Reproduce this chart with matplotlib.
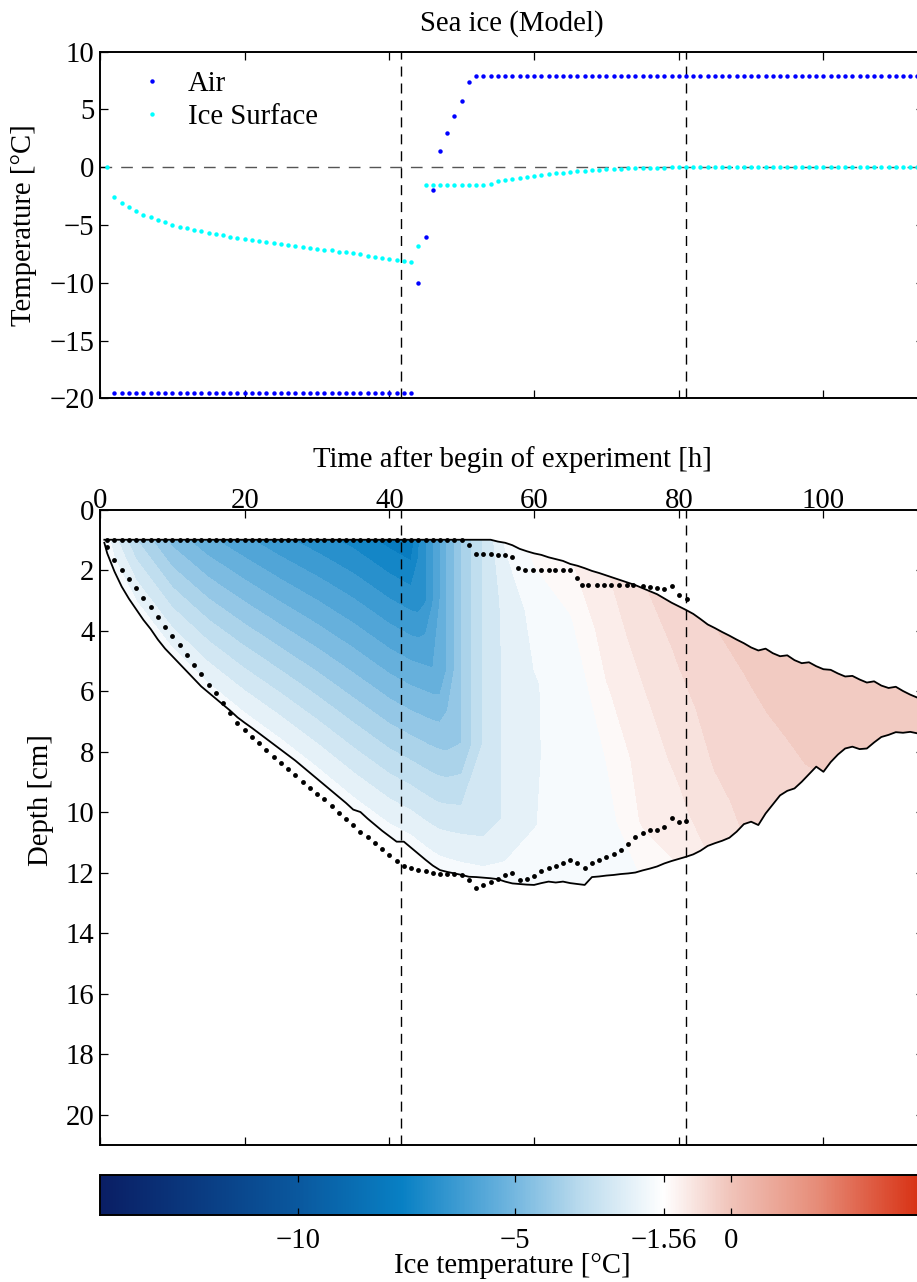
import numpy as np
import matplotlib
matplotlib.use('Agg')
import matplotlib.pyplot as plt
from matplotlib.colors import LinearSegmentedColormap, Normalize
from matplotlib.path import Path
from matplotlib.patches import PathPatch
from matplotlib.cm import ScalarMappable

plt.rcParams['font.family'] = ['Liberation Serif', 'DejaVu Serif']
plt.rcParams['font.size'] = 20.7

# ------------------------------------------------------------------ data
air_time = np.arange(2, 114)
air_temp = [-19.5, -19.5, -19.5, -19.5, -19.5, -19.5, -19.5, -19.5, -19.5, -19.5,
            -19.5, -19.5, -19.5, -19.5, -19.5, -19.5, -19.5, -19.5, -19.5, -19.5,
            -19.5, -19.5, -19.5, -19.5, -19.5, -19.5, -19.5, -19.5, -19.5, -19.5,
            -19.5, -19.5, -19.5, -19.5, -19.5, -19.5, -19.5, -19.5, -19.5, -19.5,
            -19.5, -19.5,
            -10.0, -6.0, -2.0, 1.4, 3.0, 4.4, 5.7, 7.4,
            7.9, 7.9, 7.9, 7.9, 7.9, 7.9, 7.9, 7.9, 7.9, 7.9,
            7.9, 7.9, 7.9, 7.9, 7.9, 7.9, 7.9, 7.9, 7.9, 7.9,
            7.9, 7.9, 7.9, 7.9, 7.9, 7.9, 7.9, 7.9, 7.9, 7.9,
            7.9, 7.9, 7.9, 7.9, 7.9, 7.9, 7.9, 7.9, 7.9, 7.9,
            7.9, 7.9, 7.9, 7.9, 7.9, 7.9, 7.9, 7.9, 7.9, 7.9,
            7.9, 7.9, 7.9, 7.9, 7.9, 7.9, 7.9, 7.9, 7.9, 7.9,
            7.9, 7.9]

surf_time = np.arange(1, 114)
surf_temp = [0.0, -2.55, -3.07, -3.47, -3.8, -4.1, -4.35, -4.57, -4.78, -4.98,
             -5.15, -5.3, -5.43, -5.56, -5.68, -5.8, -5.9, -6.0, -6.1, -6.2,
             -6.3, -6.4, -6.5, -6.58, -6.66, -6.75, -6.83, -6.9, -6.98, -7.05,
             -7.13, -7.2, -7.3, -7.38, -7.45, -7.55, -7.65, -7.75, -7.85, -7.95,
             -8.02, -8.1, -8.2, -6.85,
             -1.56, -1.56, -1.56, -1.56, -1.56, -1.56, -1.56, -1.56, -1.56,
             -1.42, -1.22, -1.14, -1.0, -0.9, -0.82, -0.72, -0.65, -0.58, -0.52,
             -0.46, -0.4, -0.35, -0.3, -0.26, -0.22, -0.18, -0.15, -0.12, -0.1,
             -0.08, -0.06, -0.05, -0.04, -0.03, -0.02, -0.01, -0.01,
             0.0, 0.0, 0.0, 0.0, 0.0, 0.0, 0.0, 0.0, 0.0, 0.0,
             0.0, 0.0, 0.0, 0.0, 0.0, 0.0, 0.0, 0.0, 0.0, 0.0,
             0.0, 0.0, 0.0, 0.0, 0.0, 0.0, 0.0, 0.0, 0.0, 0.0,
             0.0, 0.0]

# model ice top / bottom (solid lines)
top_line_time = [0.6, 54, 55, 56, 57, 58, 59, 60, 61, 62, 63, 64, 65, 66, 67, 68, 69, 70,
                 71, 72, 73, 74, 75, 76, 77, 78, 79, 80, 81, 82, 83, 84, 85, 86, 87, 88,
                 89, 90, 91, 92, 93, 94, 95, 96, 97, 98, 99, 100, 101, 102, 103, 104,
                 105, 106, 107, 108, 109, 110, 111, 112, 113, 114]
top_line_depth = [1.0, 1.0, 1.06, 1.1, 1.18, 1.3, 1.38, 1.45, 1.5, 1.58, 1.64, 1.7, 1.8,
                  1.86, 1.94, 2.03, 2.1, 2.18, 2.26, 2.34, 2.42, 2.5, 2.6, 2.7, 2.8, 2.94,
                  3.08, 3.2, 3.32, 3.45, 3.62, 3.8, 3.92, 4.05, 4.17, 4.3, 4.42, 4.56,
                  4.66, 4.6, 4.75, 4.85, 4.82, 4.98, 5.08, 5.05, 5.18, 5.28, 5.3, 5.42,
                  5.52, 5.5, 5.62, 5.72, 5.68, 5.82, 5.9, 5.86, 6.0, 6.12, 6.22, 6.3]

bot_line_time = [0.6] + list(range(1, 115))
bot_line_depth = [1.1, 1.45, 2.05, 2.55, 2.95, 3.3, 3.65, 3.95, 4.3, 4.6, 4.85,
                  5.1, 5.35, 5.6, 5.85, 6.05, 6.25, 6.45, 6.65, 6.87, 7.05,
                  7.22, 7.4, 7.58, 7.76, 7.94, 8.12, 8.3, 8.5, 8.7, 8.9,
                  9.1, 9.3, 9.5, 9.7, 9.92, 10.0, 10.22, 10.42, 10.62, 10.8,
                  10.98, 10.98, 11.18, 11.38, 11.58, 11.77, 11.92, 11.98, 12.03, 12.08,
                  12.14, 12.15, 12.17, 12.19, 12.22, 12.3, 12.36, 12.38, 12.4, 12.41,
                  12.35, 12.3, 12.33, 12.3, 12.35, 12.38, 12.41, 12.15, 12.13, 12.1,
                  12.08, 12.05, 12.03, 12.0, 11.93, 11.87, 11.8, 11.7, 11.62, 11.55,
                  11.48, 11.4, 11.28, 11.12, 11.03, 10.95, 10.85, 10.65, 10.4, 10.32,
                  10.43, 10.05, 9.75, 9.45, 9.3, 9.22, 9.0, 8.75, 8.5, 8.67,
                  8.35, 8.1, 7.9, 7.84, 7.92, 7.9, 7.7, 7.52, 7.45, 7.36,
                  7.38, 7.35, 7.4, 7.45]

# observed ice top / bottom (black dots)
obs_top_time = list(range(1, 58)) + [57.8, 58.8, 59.9, 60.9, 62.0, 62.9, 64.0, 65.0, 65.9,
                                     66.6, 67.5, 68.7, 69.7, 70.7, 71.8, 72.8, 73.7, 75.1,
                                     76.0, 77.0, 78.0, 79.0, 80.0, 81.1]
obs_top_depth = [1.0, 1.0, 1.0, 1.0, 1.0, 1.0, 1.0, 1.0, 1.0, 1.0,
                 1.0, 1.0, 1.0, 1.0, 1.0, 1.0, 1.0, 1.0, 1.0, 1.0,
                 1.0, 1.0, 1.0, 1.0, 1.0, 1.0, 1.0, 1.0, 1.0, 1.0,
                 1.0, 1.0, 1.0, 1.0, 1.0, 1.0, 1.0, 1.0, 1.0, 1.0,
                 1.0, 1.0, 1.0, 1.0, 1.0, 1.0, 1.0, 1.0, 1.0, 1.0,
                 1.17, 1.48, 1.48, 1.48, 1.5, 1.5, 1.56,
                 1.95, 2.0, 2.0, 2.0, 2.0, 2.0, 2.0, 2.0, 2.28,
                 2.5, 2.5, 2.5, 2.5, 2.5, 2.5, 2.5, 2.5, 2.53,
                 2.57, 2.6, 2.64, 2.53, 2.83, 2.97]

obs_bot_time = list(range(1, 82))
obs_bot_depth = [1.23, 1.67, 2.0, 2.31, 2.61, 2.94, 3.23, 3.54, 3.87, 4.18,
                 4.48, 4.81, 5.14, 5.44, 5.8, 6.08, 6.41, 6.74, 7.05, 7.29,
                 7.51, 7.73, 7.95, 8.17, 8.39, 8.59, 8.78, 9.0, 9.22, 9.4,
                 9.58, 9.8, 10.04, 10.24, 10.43, 10.65, 10.84, 11.01, 11.23, 11.42,
                 11.61, 11.77, 11.86, 11.92, 11.95, 12.0, 12.04, 12.05, 12.05, 12.07,
                 12.25, 12.52, 12.4, 12.3, 12.2, 12.07, 12.0, 12.25, 12.2, 12.1,
                 11.95, 11.85, 11.8, 11.7, 11.6, 11.7, 11.85, 11.7, 11.6, 11.5,
                 11.4, 11.25, 11.07, 10.82, 10.68, 10.6, 10.58, 10.51, 10.21, 10.32,
                 10.29]

# modelled ice temperature: rows = times, columns = relative depth (top -> bottom)
field_time = [0.6, 2, 5, 10, 15, 20, 25, 30, 35, 40, 43, 44, 45, 46, 47, 48, 50, 53,
              56, 60, 65, 70, 75, 80, 85, 90, 95, 100, 105, 110, 114]
field_frac = [0.0, 0.2, 0.4, 0.6, 0.8, 1.0]
field_temp = [
    [-1.8, -1.75, -1.7, -1.65, -1.6, -1.6],
    [-2.6, -2.4, -2.2, -2.0, -1.8, -1.6],
    [-3.8, -3.36, -2.92, -2.48, -2.04, -1.6],
    [-5.0, -4.32, -3.64, -2.96, -2.28, -1.6],
    [-5.7, -4.88, -4.06, -3.24, -2.42, -1.6],
    [-6.2, -5.28, -4.36, -3.44, -2.52, -1.6],
    [-6.66, -5.65, -4.64, -3.62, -2.61, -1.6],
    [-7.05, -5.96, -4.87, -3.78, -2.69, -1.6],
    [-7.45, -6.28, -5.11, -3.94, -2.77, -1.6],
    [-7.95, -6.68, -5.41, -4.14, -2.87, -1.6],
    [-8.2, -6.88, -5.56, -4.24, -2.92, -1.6],
    [-7.2, -6.88, -5.56, -4.24, -2.92, -1.6],
    [-6.65, -6.65, -5.56, -4.24, -2.92, -1.6],
    [-6.1, -6.1, -5.56, -4.24, -2.92, -1.6],
    [-5.56, -5.56, -5.5, -4.24, -2.92, -1.6],
    [-5.0, -5.0, -5.0, -4.24, -2.92, -1.62],
    [-4.06, -4.06, -4.06, -4.06, -2.92, -1.65],
    [-3.0, -3.0, -3.0, -3.0, -2.9, -1.7],
    [-1.95, -2.42, -2.48, -2.48, -2.48, -1.75],
    [-1.4, -1.9, -2.1, -2.1, -2.08, -1.75],
    [-1.26, -1.6, -1.85, -1.9, -1.85, -1.75],
    [-0.96, -1.1, -1.3, -1.55, -1.7, -1.75],
    [-0.66, -0.85, -1.0, -1.12, -1.22, -1.56],
    [-0.5, -0.62, -0.76, -0.9, -1.04, -1.28],
    [-0.34, -0.45, -0.55, -0.63, -0.75, -0.9],
    [-0.2, -0.34, -0.42, -0.48, -0.54, -0.6],
    [-0.15, -0.22, -0.28, -0.36, -0.42, -0.5],
    [-0.12, -0.16, -0.2, -0.25, -0.3, -0.38],
    [-0.1, -0.13, -0.16, -0.2, -0.24, -0.4],
    [-0.1, -0.12, -0.14, -0.17, -0.2, -0.4],
    [-0.1, -0.12, -0.14, -0.17, -0.2, -0.4],
]

event_times = [41.6, 81.0]
cbar_ticks = [-10, -5, -1.56, 0]
cbar_ticklabels = ['\u221210', '\u22125', '\u22121.56', '0']

# ------------------------------------------------------------------ style
W, H = 917, 1282
fig = plt.figure(figsize=(W / 100, H / 100), dpi=100)

def px_axes(l, t, r, b):
    return fig.add_axes([l / W, 1 - b / H, (r - l) / W, (b - t) / H])

ax1 = px_axes(100, 51.7, 924, 398.3)
ax2 = px_axes(100, 509.5, 924, 1144.8)
cax = px_axes(100, 1175, 924, 1215)

vmin, vmax = -14.56, 4.44
nodes = [(-14.56, (10, 30, 100)), (-10.0, (10, 88, 158)), (-7.6, (8, 128, 196)),
         (-5.35, (100, 175, 220)), (-3.5, (185, 218, 237)), (-1.56, (255, 255, 255)),
         (0.0, (240, 195, 185)), (2.0, (230, 140, 120)), (4.44, (215, 45, 15))]
cmap = LinearSegmentedColormap.from_list(
    'icetemp', [((v - vmin) / (vmax - vmin), tuple(c / 255 for c in col)) for v, col in nodes], N=512)
norm = Normalize(vmin, vmax)

tick_kw = dict(direction='in', length=5.5, width=0.9, top=True, bottom=True,
               left=True, right=True)
spine_lw = 1.4
dash_v = (0, (7.2, 5.0))
dash_h = (0, (8.4, 6.5))

# ------------------------------------------------------------------ top panel
h_air, = ax1.plot(air_time, air_temp, 'o', color='#0000ff', ms=3.2, mew=0, label='Air')
h_srf, = ax1.plot(surf_time, surf_temp, 'o', color='#00ffff', ms=3.2, mew=0, label='Ice Surface')
ax1.axhline(0, color='#555555', lw=1.0, ls=dash_h, zorder=1)
for et in event_times:
    ax1.axvline(et, color='k', lw=1.0, ls=dash_v, zorder=1)
ax1.set_xlim(0, 113.9)
ax1.set_ylim(-20, 10)
ax1.set_xticks([0, 20, 40, 60, 80, 100])
ax1.set_yticks([-20, -15, -10, -5, 0, 5, 10])
ax1.tick_params(labelbottom=False, labeltop=False, pad=4, **tick_kw)
for s in ax1.spines.values():
    s.set_linewidth(spine_lw)
ax1.legend(handles=[h_air, h_srf], loc='upper left', bbox_to_anchor=(0.0456, 0.945),
           frameon=False, handlelength=1.0, handletextpad=0.75, labelspacing=0.26,
           borderpad=0, borderaxespad=0, numpoints=1)

# ------------------------------------------------------------------ bottom panel
ft = np.array(field_time, dtype=float)
ff = np.array(field_frac)
top_g = np.interp(ft, top_line_time, top_line_depth)
bot_g = np.interp(ft, bot_line_time, bot_line_depth)
pad = 0.35
X = np.repeat(ft[:, None], len(ff), axis=1)
Y = (top_g - pad)[:, None] + ff[None, :] * (bot_g - top_g + 2 * pad)[:, None]
Z = np.array(field_temp)

levels = np.concatenate([np.arange(-14.56, -1.55, 0.5), np.arange(-1.26, 4.45, 0.3)])
cs = ax2.contourf(X, Y, Z, levels=levels, cmap=cmap, norm=norm, zorder=1)
verts = list(zip(top_line_time, top_line_depth)) + list(zip(bot_line_time[::-1], bot_line_depth[::-1]))
verts.append(verts[0])
clip = PathPatch(Path(verts, closed=True), transform=ax2.transData, facecolor='none', edgecolor='none')
cs.set_clip_path(clip)

ax2.plot(top_line_time, top_line_depth, color='k', lw=1.3, zorder=3)
ax2.plot(bot_line_time, bot_line_depth, color='k', lw=1.3, zorder=3)
ax2.plot(obs_top_time, obs_top_depth, 'o', color='k', ms=3.5, mew=0, zorder=4)
ax2.plot(obs_bot_time, obs_bot_depth, 'o', color='k', ms=3.5, mew=0, zorder=4)
for et in event_times:
    ax2.axvline(et, color='k', lw=1.0, ls=dash_v, zorder=5)

ax2.set_xlim(0, 113.9)
ax2.set_ylim(21, 0)
ax2.set_xticks([0, 20, 40, 60, 80, 100])
ax2.set_yticks(np.arange(0, 21, 2))
ax2.xaxis.tick_top()
ax2.tick_params(labeltop=True, labelbottom=False, **tick_kw)
ax2.tick_params(axis='x', pad=-3)
ax2.tick_params(axis='y', pad=4)
for s in ax2.spines.values():
    s.set_linewidth(spine_lw)

# ------------------------------------------------------------------ colorbar
sm = ScalarMappable(norm=norm, cmap=cmap)
cb = fig.colorbar(sm, cax=cax, orientation='horizontal', ticks=cbar_ticks)
cb.ax.set_xticklabels(cbar_ticklabels)
cb.ax.tick_params(direction='in', length=5, width=0.9, top=True, bottom=True, pad=9)
cb.outline.set_linewidth(spine_lw)

# ------------------------------------------------------------------ texts
fig.text(512 / W, 1 - 30.5 / H, 'Sea ice (Model)', ha='center', va='baseline')
fig.text(24 / W, 1 - 225 / H, 'Temperature [°C]', rotation=90, ha='center', va='center')
fig.text(512 / W, 1 - 467 / H, 'Time after begin of experiment [h]', ha='center', va='baseline')
fig.text(41 / W, 1 - 800 / H, 'Depth [cm]', rotation=90, ha='center', va='center')
fig.text(512 / W, 1 - 1273 / H, 'Ice temperature [°C]', ha='center', va='baseline')

fig.savefig('out.png', dpi=100)
